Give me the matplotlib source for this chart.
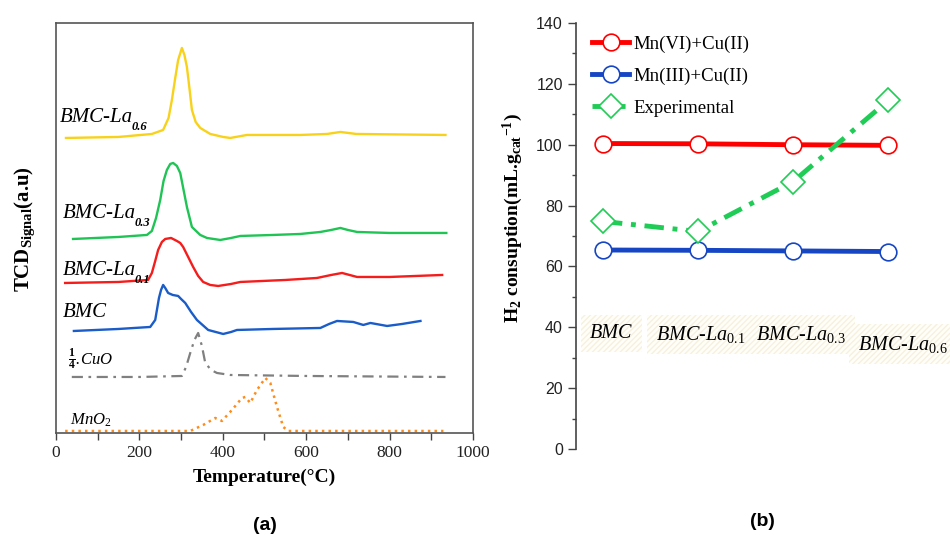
# coding:utf-8
# TPR curves (a) and H2 consumption (b)

import numpy as np
import matplotlib
matplotlib.use("Agg")
import matplotlib.pyplot as plt


# (a) TPR data: temperature (C) / signal (a.u)
t_la06 = [24, 150, 230, 257, 270, 278, 286, 293, 302, 308, 314, 320, 326, 335, 346, 370, 401, 418, 458, 586, 650, 682, 720, 934]
y_la06 = [295, 296, 299, 303, 315, 333, 355, 373, 385, 378, 366, 345, 323, 311, 305, 299, 296, 295, 298, 298, 299, 301, 299, 298]

t_la03 = [41, 150, 218, 230, 240, 250, 258, 266, 274, 281, 290, 298, 306, 314, 326, 346, 362, 394, 420, 442, 520, 586, 634, 660, 682, 700, 722, 800, 936]
y_la03 = [194, 196, 198, 202, 215, 233, 252, 263, 269, 270, 267, 260, 243, 226, 206, 198, 195, 193, 195, 197, 198, 199, 201, 203, 205, 203, 201, 200, 200]

t_la01 = [22, 150, 221, 230, 238, 245, 254, 262, 276, 290, 298, 305, 317, 329, 341, 353, 370, 389, 420, 442, 550, 626, 660, 686, 722, 800, 926]
y_la01 = [150, 151, 153, 160, 172, 183, 191, 194, 195, 192, 190, 186, 176, 166, 157, 151, 148, 147, 149, 151, 153, 155, 158, 160, 156, 156, 158]

t_bmc = [43, 150, 226, 238, 247, 252, 257, 262, 269, 280, 293, 300, 310, 324, 338, 365, 401, 420, 434, 520, 634, 655, 674, 713, 737, 754, 794, 830, 874]
y_bmc = [102, 104, 106, 113, 135, 143, 148, 145, 140, 138, 137, 134, 130, 121, 113, 103, 99, 101, 103, 104, 105, 109, 112, 111, 108, 110, 107, 109, 112]

t_cuo = [38, 200, 302, 312, 322, 332, 341, 350, 358, 372, 386, 418, 600, 934]
y_cuo = [56, 56, 57, 66, 80, 93, 100, 87, 70, 63, 60, 58, 57, 56]

t_mno2 = [22, 200, 322, 353, 382, 398, 422, 446, 454, 466, 482, 502, 514, 530, 545, 557, 700, 929]
y_mno2 = [2, 2, 2, 8, 15, 12, 23, 35, 36, 30, 43, 55, 50, 26, 6, 2, 2, 2]

# (b) H2 consumption (mL/g cat)
samples = ["BMC", "BMC-La$_{0.1}$", "BMC-La$_{0.3}$", "BMC-La$_{0.6}$"]
mn6 = [100.4, 100.3, 100.0, 99.8]
mn3 = [65.4, 65.3, 65.1, 64.9]
exp = [74.8, 71.5, 87.9, 114.6]


plt.rcParams["font.family"] = ["Liberation Serif", "DejaVu Serif"]
plt.rcParams["mathtext.fontset"] = "custom"
plt.rcParams["mathtext.rm"] = "Liberation Serif"
plt.rcParams["mathtext.it"] = "Liberation Serif:italic"
plt.rcParams["mathtext.bf"] = "Liberation Serif:bold"
plt.rcParams["mathtext.bfit"] = "Liberation Serif:italic:bold"

fig = plt.figure(figsize=(9.5, 5.35), dpi=100)

# ---------- (a) ----------
ax = fig.add_axes([0.0589, 0.1907, 0.439, 0.7664])
ax.plot(t_la06, y_la06, color="#f8d21a", lw=1.7)
ax.plot(t_la03, y_la03, color="#1fc455", lw=1.7)
ax.plot(t_la01, y_la01, color="#f51c1c", lw=1.7)
ax.plot(t_bmc, y_bmc, color="#1a5cc8", lw=1.7)
ax.plot(t_cuo, y_cuo, color="#808080", lw=1.6, dashes=(5, 2.5, 1.2, 2.5))
ax.plot(t_mno2, y_mno2, color="#ff8c1a", lw=1.8, ls=":")

ax.set_xlim(0, 1000)
ax.set_ylim(0, 410)
ax.set_xticks(range(0, 1001, 200))
ax.set_xticks(range(100, 1000, 200), minor=True)
ax.set_yticks([])
ax.tick_params(axis="x", which="both", direction="out", length=5, width=1, colors="#444")
ax.tick_params(axis="x", labelsize=12.5, labelcolor="#222")
for s in ax.spines.values():
    s.set_color("#555")
    s.set_linewidth(1.2)
ax.set_xlabel("Temperature(°C)", fontsize=14, fontweight="bold", labelpad=6)

# curve names
names = [("BMC-La", "0.6", 10, 311), ("BMC-La", "0.3", 17, 215), ("BMC-La", "0.1", 17, 158), ("BMC", "", 17, 116)]
for name, sub, tx, ty in names:
    t = ax.text(tx, ty, name, style="italic", fontsize=15, va="baseline")
    if sub:
        ax.annotate(sub, xy=(1, 0), xycoords=t, xytext=(-1, -2.5), textcoords="offset points",
                    fontsize=9, style="italic", fontweight="bold", va="baseline")
ax.text(29, 68, r"$\frac{\mathbf{1}}{\mathbf{4}}$.CuO", style="italic", fontsize=12, va="baseline")
ax.text(34, 8, "MnO$_2$", style="italic", fontsize=12, va="baseline")

fig.text(25 / 950, 1 - 229 / 535, r"TCD$_{\mathbf{Signal}}$(a.u)", rotation=90, ha="center", va="center",
         fontsize=15, fontweight="bold")
fig.text(265 / 950, 1 - 525 / 535, "(a)", family="Liberation Sans", fontweight="bold", fontsize=14,
         ha="center", va="center")

# ---------- (b) ----------
bx = fig.add_axes([0.6063, 0.1607, 0.388, 0.7963])
x = np.arange(len(samples))
bx.plot(x, mn6, color="#ff0000", lw=3.5, marker="o", ms=12, mfc="white", mec="#ff0000", mew=1.2,
        label="Mn(VI)+Cu(II)")
bx.plot(x, mn3, color="#1646c4", lw=3.5, marker="o", ms=12, mfc="white", mec="#1646c4", mew=1.2,
        label="Mn(III)+Cu(II)")
bx.plot(x, exp, color="#1fcc55", lw=3.5, dashes=(4, 1.8, 1, 1.8), marker="D", ms=12, mfc="white",
        mec="#1fcc55", mew=1.2, label="Experimental")

bx.set_xlim(-0.283, 3.59)
bx.set_ylim(0, 140)
bx.set_xticks([])
bx.set_yticks(range(0, 141, 20))
bx.set_yticks(range(10, 140, 20), minor=True)
bx.tick_params(axis="y", which="major", direction="out", length=6, width=1, colors="#444")
bx.tick_params(axis="y", which="minor", direction="out", length=3, width=1, colors="#444")
bx.tick_params(axis="y", labelsize=11.5, labelcolor="#222")
for lab in bx.get_yticklabels():
    lab.set_family("Liberation Sans")
for side in ["top", "right", "bottom"]:
    bx.spines[side].set_visible(False)
bx.spines["left"].set_color("#444")
bx.spines["left"].set_linewidth(1.2)

bx.legend(loc="upper left", bbox_to_anchor=(0.043, 0.97), frameon=False, fontsize=13.5,
          borderpad=0, borderaxespad=0, handlelength=2.0, handletextpad=0.2, labelspacing=0.78, numpoints=1)

# sample name boxes
label_pos = [(0.09, 38.0), (1.03, 37.5), (2.08, 37.5), (3.15, 34.5)]
for name, (px, py) in zip(samples, label_pos):
    bx.text(px, py, name, style="italic", fontsize=14.5, ha="center", va="center", clip_on=False,
            bbox=dict(boxstyle="square,pad=0.45", fc="#fffef9", ec="#f6f1df", lw=0, hatch="//////"))

fig.text(513 / 950, 1 - 218 / 535, r"H$_{\mathbf{2}}$ consuption(mL.g$_{\mathbf{cat}}$$^{\mathbf{-1}}$)",
         rotation=90, ha="center", va="center", fontsize=14, fontweight="bold")
fig.text(762 / 950, 1 - 522 / 535, "(b)", family="Liberation Sans", fontweight="bold", fontsize=14,
         ha="center", va="center")

plt.savefig("out.png", dpi=100)
plt.close()
